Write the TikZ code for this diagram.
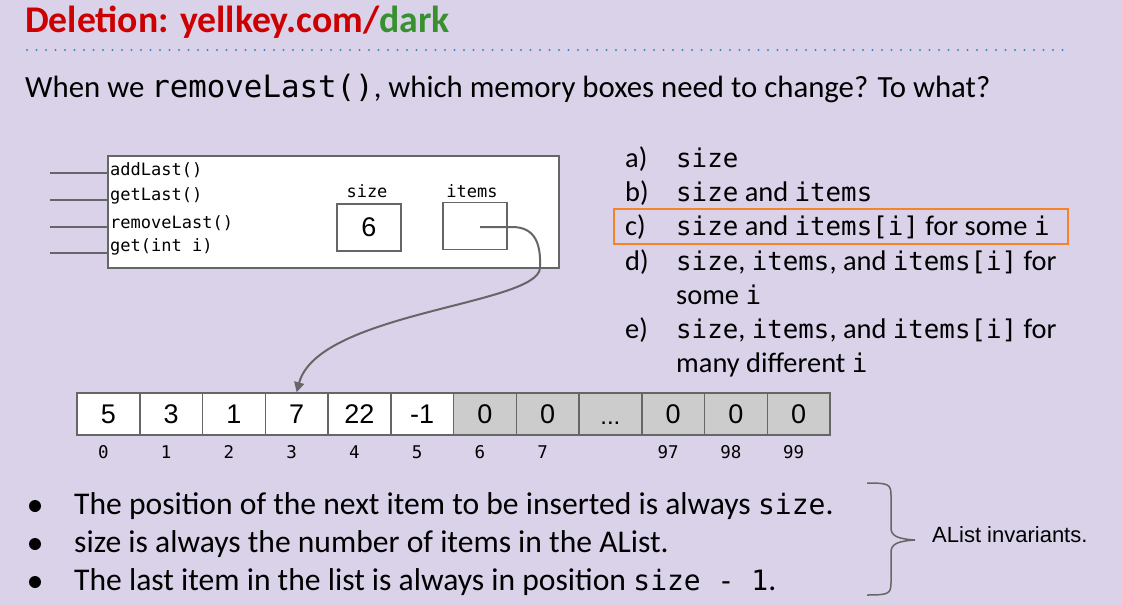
\documentclass[tikz,border=0pt]{standalone}
\usepackage{fontspec}
\setmainfont{Carlito}
\newfontfamily\monof{DejaVu Sans Mono}
\newfontfamily\arialf{Liberation Sans}
\usetikzlibrary{arrows.meta}
\definecolor{bg}{HTML}{D9D2E9}
\definecolor{tred}{HTML}{CC0000}
\definecolor{tgreen}{HTML}{38912E}
\definecolor{dotblue}{HTML}{3D85C6}
\definecolor{boxgray}{HTML}{666666}
\definecolor{cellgray}{HTML}{CCCCCC}
\definecolor{orng}{HTML}{F6822A}
\newcommand\fs[1]{\fontsize{#1}{#1}\selectfont}
\newcommand\cd[1]{{\monof #1}}
\newcommand\oc[1]{{\monof\fs{25.8}#1}}
\tikzset{
  txt/.style={inner sep=0pt, anchor=base west},
  methodtxt/.style={inner sep=0pt, anchor=west, font=\monof\fs{17}},
  memlabel/.style={inner sep=0pt, font=\monof\fs{17}},
  membox/.style={draw=boxgray, line width=1.5pt, fill=white, minimum width=64pt, minimum height=47pt, inner sep=0pt, font=\arialf\fs{27}},
  cellw/.style={draw=boxgray, line width=1.5pt, fill=white, minimum width=62.75pt, minimum height=42pt, inner sep=0pt, font=\arialf\fs{27}},
  cellg/.style={cellw, fill=cellgray},
  idx/.style={inner sep=0pt, font=\monof\fs{17.5}},
  opt/.style={inner sep=0pt, anchor=base west, font=\fs{28.4}},
  stub/.style={draw=boxgray, line width=1.5pt},
  bul/.style={fill=black},
  bultxt/.style={inner sep=0pt, anchor=base west, font=\fs{31.6}},
}
\begin{document}
\begin{tikzpicture}[x=1pt,y=-1pt]
\fill[bg] (0,0) rectangle (1122,605);
\useasboundingbox (0,0) rectangle (1122,605);
% title
\node[txt, font=\bfseries\fs{37.7}] (title) at (25,32) {\textcolor{tred}{Deletion: yellkey.com/}\textcolor{tgreen}{dark}};
\draw[dotblue, line width=2.2pt, line cap=round, dash pattern=on 0pt off 9.5pt] (27,50) -- (1070,50);
\node[txt, font=\fs{30.8}] (q) at (25,97) {When we \cd{removeLast()}, which memory boxes need to change? To what?};
% object box
\node[draw=boxgray, line width=1.5pt, fill=white, minimum width=451pt, minimum height=112pt, anchor=north west, inner sep=0pt] (obj) at (107,155) {};
\foreach \yy [count=\k] in {173,200,227,253}{
  \coordinate (s\k) at (50,\yy);
  \coordinate (e\k) at (107,\yy);
  \draw[stub] (s\k) -- (e\k);
}
\node[methodtxt] (m1) at (110,170) {addLast()};
\node[methodtxt] (m2) at (110,196) {getLast()};
\node[methodtxt] (m3) at (110,223) {removeLast()};
\node[methodtxt] (m4) at (110,247) {get(int i)};
\node[memlabel] (sizel) at (367,191) {size};
\node[memlabel] (itemsl) at (472,191) {items};
\node[membox] (sizebox) at (369,227.5) {6};
\node[membox] (itemsbox) at (475,226) {};
\coordinate (ptr) at (480,227);
% array
\foreach \v [count=\i from 0] in {5,3,1,7,22,-1}{
  \node[cellw] (c\i) at ({77+62.75*(\i+0.5)},414) {\v};
}
\foreach \i in {6,7,9,10,11}{
  \node[cellg] (c\i) at ({77+62.75*(\i+0.5)},414) {0};
}
\node[cellg] (c8) at ({77+62.75*8.5},414) {};
\node[inner sep=0pt, anchor=base, font=\arialf\fs{24}] (dots) at ([yshift=-10pt]c8.center) {...};
\foreach \i/\l in {0/0,1/1,2/2,3/3,4/4,5/5,6/6,7/7,9/97,10/98,11/99}{
  \node[idx] (i\i) at ([xshift=-5pt]c\i.center |- 0,452) {\l};
}
% pointer arrow
\draw[boxgray, line width=2pt, -{Triangle[width=10pt,length=10pt]}] (ptr) -- (512,227) .. controls (536,227) and (541,245) .. (540,268) .. controls (538,305) and (318,312) .. (c3.north);
% options
\node[opt] (oa) at (625,167) {a)};
\node[opt] (ob) at (625,201) {b)};
\node[opt] (oc) at (625,235) {c)};
\node[opt] (od) at (625,270) {d)};
\node[opt] (oe) at (625,338) {e)};
\node[opt] (ta) at (676,167) {\oc{size}};
\node[opt] (tb) at (676,201) {\oc{size} and \oc{items}};
\node[opt] (tc) at (676,235) {\oc{size} and \oc{items[i]} for some \oc{i}};
\node[opt] (td) at (676,270) {\oc{size}, \oc{items}, and \oc{items[i]} for};
\node[opt] (td2) at (676,304) {some \oc{i}};
\node[opt] (te) at (676,338) {\oc{size}, \oc{items}, and \oc{items[i]} for};
\node[opt] (te2) at (676,372) {many different \oc{i}};
\draw[orng, line width=1.5pt] (614,209) rectangle (1068,244);
% bullets
\foreach \yy in {506,544,582}{ \fill[bul] (35,\yy) circle (6pt); }
\node[bultxt] (b1) at (74,514) {The position of the next item to be inserted is always \cd{\fs{28}size}.};
\node[bultxt] (b2) at (74,552) {size is always the number of items in the AList.};
\node[bultxt] (b3) at (74,590) {The last item in the list is always in position \cd{\fs{28}size - 1}.};
% brace
\draw[boxgray, line width=1.5pt] (867,483) .. controls (888,483) and (891,484) .. (891,495) -- (891,528) .. controls (891,536) and (898,539) .. (915,540) .. controls (898,541) and (891,544) .. (891,552) -- (891,583) .. controls (891,594) and (888,595) .. (867,595);
\node[inner sep=0pt, anchor=west, font=\arialf\fs{22}] (inv) at (932,535) {AList invariants.};
\end{tikzpicture}
\end{document}
